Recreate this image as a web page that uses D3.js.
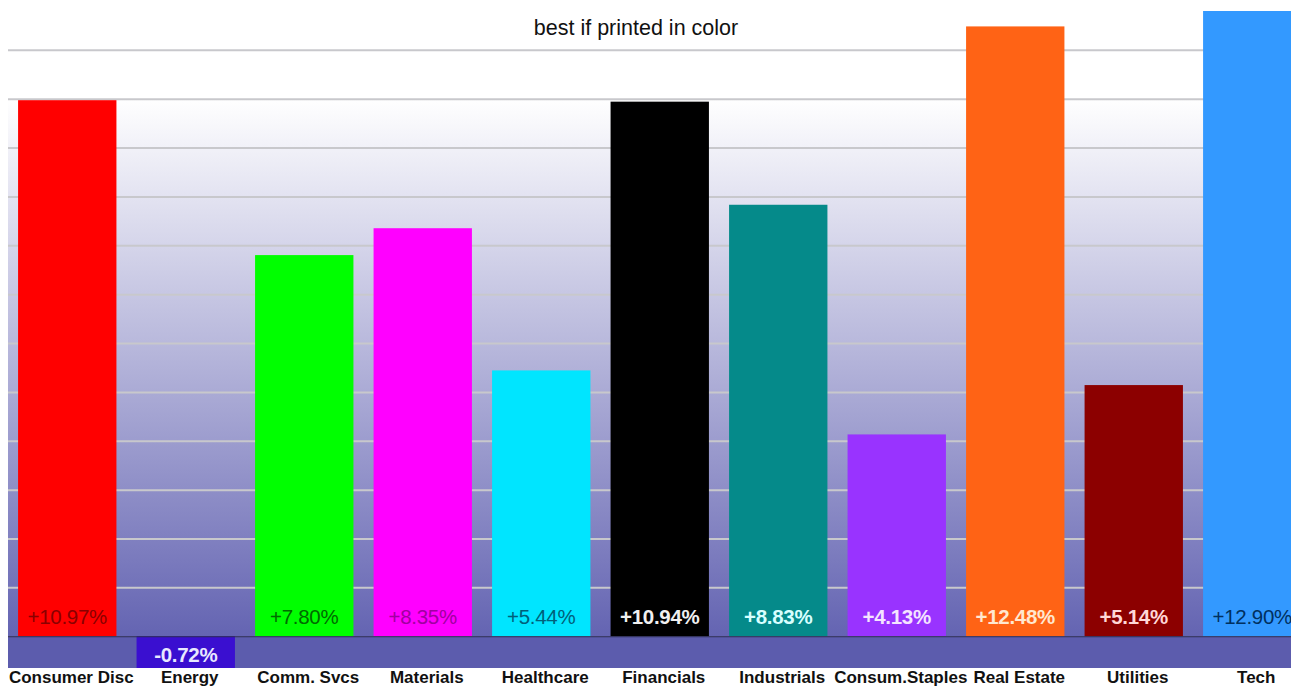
<!DOCTYPE html>
<html><head><meta charset="utf-8">
<script src="https://cdn.jsdelivr.net/npm/d3@7"></script>
<style>body{margin:0;background:#fff;overflow:hidden}svg{display:block}</style>
</head><body>
<script>
const categories = ["Consumer Disc","Energy","Comm. Svcs","Materials","Healthcare","Financials","Industrials","Consum.Staples","Real Estate","Utilities","Tech"];
const values = [10.97,-0.72,7.80,8.35,5.44,10.94,8.83,4.13,12.48,5.14,12.90];
const barColors = ["#ff0000","#3a0fd0","#00ff00","#ff00ff","#00e5ff","#000000","#058a8a","#9933ff","#ff6315","#8c0000","#3399ff"];
const labelColors = ["#8a0000","#e8e8ff","#006a00","#a000a0","#00607a","#f0f0f0","#d8ffff","#f4e4ff","#ffe8d0","#ffd8d8","#003060"];
const labelBold = [false,true,false,false,false,true,true,true,true,true,false];
const gridTicks = [1,2,3,4,5,6,7,8,9,10,11,12];
const title = "best if printed in color";

const W = 1291, H = 687;
const svg = d3.select("body").append("svg").attr("width", W).attr("height", H);
const left = 8, right = W;
const y = d3.scaleLinear().domain([-0.65, 13]).range([668, 1]);
const x = d3.scaleBand().domain(categories).range([left, 1311.5]).paddingInner(0.17).paddingOuter(0.085);

const defs = svg.append("defs");
const grad = defs.append("linearGradient").attr("id","bg").attr("x1",0).attr("x2",0).attr("y1",0).attr("y2",1);
grad.append("stop").attr("offset","0%").attr("stop-color","#ffffff");
grad.append("stop").attr("offset","100%").attr("stop-color","#6464b2");
defs.append("clipPath").attr("id","plot").append("rect")
  .attr("x", left).attr("y", 11).attr("width", right-left).attr("height", y(-0.65)-11);

svg.append("rect").attr("x", left).attr("y", y(11)).attr("width", right-left)
  .attr("height", y(0)-y(11)).attr("fill","url(#bg)");
svg.append("rect").attr("x", left).attr("y", y(0)).attr("width", right-left)
  .attr("height", y(-0.65)-y(0)).attr("fill","#5c5cad");

const grid = svg.append("g").attr("transform", `translate(${left},0)`)
  .call(d3.axisLeft(y).tickValues(gridTicks).tickSize(-(right-left)).tickFormat(""));
grid.select(".domain").remove();
grid.selectAll(".tick line").attr("stroke","#c8c8cc").attr("stroke-width",2);

const g = svg.append("g").attr("clip-path","url(#plot)");
g.selectAll("rect.bar").data(values).join("rect").attr("class","bar")
  .attr("x",(d,i)=>x(categories[i]))
  .attr("width", x.bandwidth())
  .attr("y", d=>d>=0 ? y(d) : y(0))
  .attr("height", d=>Math.abs(y(d)-y(0)))
  .attr("fill",(d,i)=>barColors[i]);

svg.append("line").attr("x1",left).attr("x2",right).attr("y1",y(0)+0.5).attr("y2",y(0)+0.5)
  .attr("stroke","#2a2a50").attr("stroke-width",1);

g.selectAll("text.val").data(values).join("text").attr("class","val")
  .attr("x",(d,i)=>x(categories[i])+x.bandwidth()/2)
  .attr("y", d=> d>=0 ? y(0)-12 : y(0)+26)
  .attr("text-anchor","middle")
  .attr("font-family","Liberation Sans, Arial, sans-serif")
  .attr("font-size", 20.5)
  .attr("font-weight", (d,i)=> labelBold[i] ? "bold" : "normal")
  .attr("letter-spacing", -0.3)
  .attr("fill",(d,i)=>labelColors[i])
  .text(d=>(d>=0?"+":"")+d.toFixed(2)+"%");

const xa = svg.append("g").attr("transform",`translate(4,${y(-0.65)})`)
  .call(d3.axisBottom(x).tickSize(0).tickPadding(3));
xa.select(".domain").remove();
xa.selectAll("text").attr("font-family","Liberation Sans, Arial, sans-serif")
  .attr("font-size",17).attr("font-weight","bold").attr("fill","#111").attr("dy","0.71em");

svg.append("text").attr("x",636).attr("y",35).attr("text-anchor","middle")
  .attr("font-family","Liberation Sans, Arial, sans-serif").attr("font-size",21.5)
  .attr("fill","#111").text(title);
</script>
</body></html>
